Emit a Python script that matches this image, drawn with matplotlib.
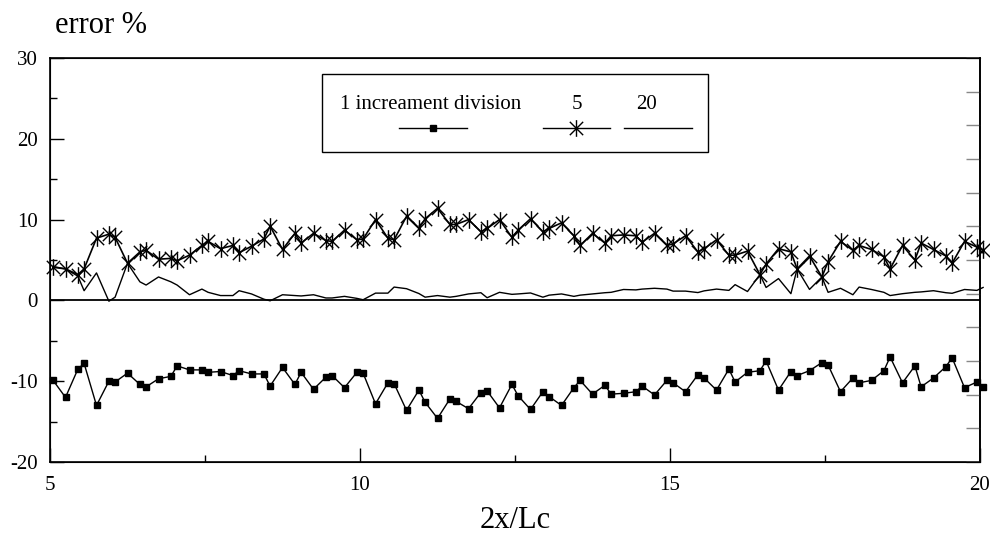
import numpy as np
import matplotlib
matplotlib.use("Agg")
from matplotlib import pyplot as plt
from matplotlib.path import Path
from matplotlib.lines import Line2D
from matplotlib.patches import Rectangle

plt.rcParams['font.family'] = ['Liberation Serif', 'DejaVu Serif']
plt.rcParams['axes.unicode_minus'] = False

# sample positions along 2x/Lc (three samples per half unit)
x = [round(5.05 + 0.5 * k + d, 2) for k in range(31) for d in (0.0, 0.2, 0.4)][:91]

# error % for 1 increment division (squares)
err_1 = [-9.9, -12.0, -8.5, -7.8, -13.0, -10.0, -10.1, -9.0, -10.4, -10.7,
         -9.7, -9.4, -8.1, -8.6, -8.6, -8.9, -8.8, -9.3, -8.7, -9.1,
         -9.1, -10.6, -8.3, -10.4, -8.9, -11.0, -9.5, -9.3, -10.8, -8.9,
         -9.0, -12.8, -10.2, -10.3, -13.6, -11.1, -12.6, -14.6, -12.2, -12.5,
         -13.4, -11.4, -11.2, -13.3, -10.4, -11.8, -13.5, -11.3, -11.9, -13.0,
         -10.8, -9.9, -11.6, -10.5, -11.6, -11.5, -11.3, -10.6, -11.7, -9.9,
         -10.2, -11.3, -9.2, -9.6, -11.1, -8.5, -10.1, -8.9, -8.7, -7.5,
         -11.1, -8.8, -9.3, -8.7, -7.7, -8.0, -11.3, -9.6, -10.2, -9.9,
         -8.7, -7.0, -10.2, -8.1, -10.7, -9.6, -8.2, -7.1, -10.8, -10.1,
         -10.7]

# error % for 5 divisions (asterisks)
err_5 = [4.1, 3.9, 3.2, 3.9, 7.7, 8.2, 7.8, 4.6, 6.0, 6.2,
         5.1, 5.2, 4.9, 5.6, 6.8, 7.3, 6.4, 6.8, 5.9, 6.7,
         7.6, 9.2, 6.3, 8.3, 7.1, 8.3, 7.4, 7.3, 8.7, 7.5,
         7.6, 10.0, 7.7, 7.5, 10.4, 8.9, 10.1, 11.4, 9.4, 9.4,
         10.0, 8.5, 8.9, 10.0, 7.8, 8.7, 10.1, 8.5, 8.9, 9.6,
         8.0, 6.8, 8.3, 7.1, 8.0, 8.1, 8.0, 7.2, 8.3, 6.8,
         7.0, 8.0, 6.0, 6.4, 7.5, 5.6, 5.6, 6.1, 3.2, 4.5,
         6.4, 6.0, 3.9, 5.5, 2.9, 4.8, 7.3, 6.2, 6.8, 6.3,
         5.4, 3.9, 6.8, 5.0, 7.1, 6.3, 5.5, 4.6, 7.3, 6.6,
         6.2]

# error % for 20 divisions (plain line)
err_20 = [4.2, 3.9, 3.0, 1.2, 3.4, -0.1, 0.4, 4.6, 2.3, 1.9,
          2.9, 2.3, 1.9, 0.7, 1.4, 1.0, 0.6, 0.6, 1.2, 0.8,
          0.15, -0.05, 0.7, 0.6, 0.55, 0.7, 0.3, 0.3, 0.5, 0.25,
          0.08, 0.9, 0.9, 1.65, 1.45, 0.85, 0.4, 0.6, 0.4, 0.5,
          0.8, 0.95, 0.33, 1.0, 0.75, 0.8, 0.92, 0.4, 0.65, 0.8,
          0.5, 0.65, 0.8, 0.95, 1.0, 1.35, 1.3, 1.4, 1.5, 1.4,
          1.15, 1.15, 0.97, 1.18, 1.4, 1.24, 1.95, 1.1, 3.2, 1.6,
          2.7, 0.83, 3.9, 1.36, 2.9, 1.0, 1.5, 0.7, 1.65, 1.35,
          1.0, 0.6, 0.83, 1.0, 1.05, 1.2, 0.95, 0.88, 1.35, 1.24,
          1.6]

x_ticks = [5, 10, 15, 20]
y_ticks = [-20, -10, 0, 10, 20, 30]

# asterisk marker: vertical stroke plus an X
ast = Path([(0, -1), (0, 1), (-0.8, -0.8), (0.8, 0.8), (-0.8, 0.8), (0.8, -0.8)],
           [Path.MOVETO, Path.LINETO, Path.MOVETO, Path.LINETO, Path.MOVETO, Path.LINETO])

fig = plt.figure(figsize=(9.9, 5.34), dpi=100)
ax = fig.add_axes([50 / 990, 1 - 462 / 534, 930 / 990, 404 / 534])

ax.axhline(0, color='black', lw=1.3, zorder=1)
ax.plot(x, err_20, color='black', lw=1.0, clip_on=False, zorder=2)
ax.plot(x, err_5, color='black', lw=1.2, marker=ast, ms=12, mew=1.0,
        mfc='none', mec='black', clip_on=False, zorder=3)
ax.plot(x, err_1, color='black', lw=1.0, marker='s', ms=4.2,
        mfc='black', mec='black', clip_on=False, zorder=3)

ax.set_xlim(5, 20)
ax.set_ylim(-20, 30)
ax.set_xticks(x_ticks)
ax.set_xticks([7.5, 12.5, 17.5], minor=True)
ax.set_yticks(y_ticks)
ax.set_yticks([-15, -5, 5, 15, 25], minor=True)
ax.set_yticklabels([str(v) for v in y_ticks])
ax.tick_params(axis='both', which='major', direction='in', length=10, width=1,
               labelsize=15, top=False, right=False)
ax.tick_params(axis='both', which='minor', direction='in', length=5, width=1,
               top=False, right=False)
ax.tick_params(axis='x', which='major', pad=10)
ax.tick_params(axis='y', which='major', pad=9)
for s in ax.spines.values():
    s.set_linewidth(1.2)

# right-hand ticks, grey, without labels
ax2 = ax.twinx()
ax2.set_ylim(0, 12)
ax2.set_yticks(range(13))
ax2.tick_params(axis='y', direction='in', length=10, width=1, color='#888888',
                labelright=False)
ax2.spines['right'].set_linewidth(1.2)

fig.text(55 / 990, 1 - 33 / 534, 'error %', fontsize=22, va='baseline', ha='left')
fig.text(515 / 990, 1 - 520 / 534, '2x/Lc', fontsize=22, va='center', ha='center')

# legend drawn by hand in axes fractions
tr = ax.transAxes
ax.add_patch(Rectangle((0.2925, 0.7673), 0.415, 0.1931, transform=tr,
                       facecolor='white', edgecolor='black', lw=1.0, zorder=5))
ty = 0.8837
ax.text(0.3118, ty, '1 increament division', transform=tr, fontsize=15,
        va='center', ha='left', zorder=6)
ax.text(0.5667, ty, '5', transform=tr, fontsize=15, va='center', ha='center', zorder=6)
ax.text(0.6419, ty, '20', transform=tr, fontsize=15, va='center', ha='center', zorder=6)
sy = 0.8267
ax.add_line(Line2D([0.3753, 0.4484], [sy, sy], transform=tr, color='black', lw=1.0, zorder=6))
ax.add_line(Line2D([0.4118], [sy], transform=tr, marker='s', ms=4.2, color='black', zorder=6))
ax.add_line(Line2D([0.5301, 0.6022], [sy, sy], transform=tr, color='black', lw=1.0, zorder=6))
ax.add_line(Line2D([0.5661], [sy], transform=tr, marker=ast, ms=12, mew=1.0,
                   mfc='none', mec='black', zorder=6))
ax.add_line(Line2D([0.6172, 0.6903], [sy, sy], transform=tr, color='black', lw=1.0, zorder=6))

fig.savefig('out.png', dpi=100)
